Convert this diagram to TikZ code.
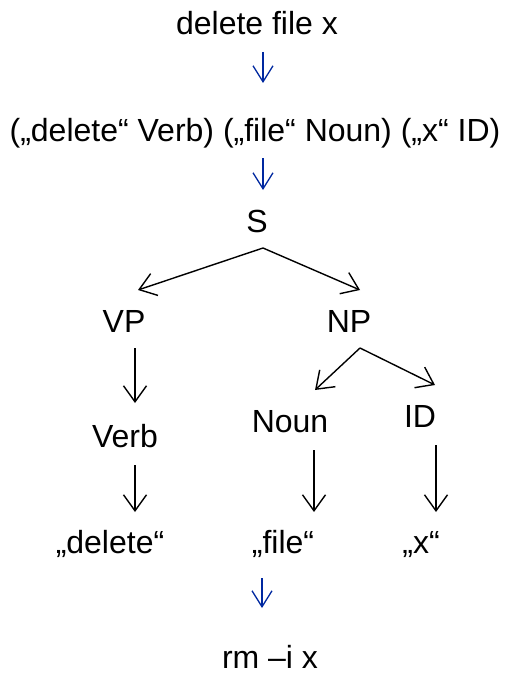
\documentclass[tikz,border=0pt]{standalone}
\usepackage{fontspec}
\setmainfont{Liberation Sans}
\usetikzlibrary{arrows.meta}
\definecolor{arrblue}{RGB}{0,40,160}
\begin{document}
\begin{tikzpicture}[x=1pt,y=-1pt,
  lbl/.style={anchor=base,inner sep=0pt,font=\fontsize{32}{38}\selectfont},
  tree/.style={line width=1.4pt,-{Straight Barb[length=16pt,width=23pt,line width=1.4pt]}},
  trans/.style={arrblue,line width=1.3pt,-{Straight Barb[length=16pt,width=20pt,line width=1.3pt]}}]
\useasboundingbox (0,0) rectangle (505,674);
% texts
\node[lbl] (in) at (257,35) {delete file x};
\node[lbl] (tok) at (255,141) {(„delete“ Verb) („file“ Noun) („x“ ID)};
\node[lbl] (S) at (257,232) {S};
\node[lbl] (VP) at (124,332) {VP};
\node[lbl] (NP) at (349,332) {NP};
\node[lbl] (Verb) at (125,447) {Verb};
\node[lbl] (Noun) at (290,432) {Noun};
\node[lbl] (ID) at (420,427) {ID};
\node[lbl] (wdel) at (110,553) {„delete“};
\node[lbl] (wfile) at (283,553) {„file“};
\node[lbl] (wx) at (421,553) {„x“};
\node[lbl,text depth=0pt] (out) at (270,668) {rm –i x};
% connector end points
\coordinate (a1) at (263,52);  \coordinate (b1) at (263,83);
\coordinate (a2) at (263,158); \coordinate (b2) at (263,190);
\coordinate (a3) at (262,578); \coordinate (b3) at (262,608);
\coordinate (sApex) at (263,248);
\coordinate (vpTop) at (138,290); \coordinate (npTop) at (360,290);
\coordinate (vpBot) at (135,348); \coordinate (verbTop) at (135,403);
\coordinate (npApex) at (360,348);
\coordinate (nounTop) at (315,390); \coordinate (idTop) at (435,385);
\coordinate (verbBot) at (135,465); \coordinate (delTop) at (135,512);
\coordinate (nounBot) at (314,450); \coordinate (fileTop) at (314,512);
\coordinate (idBot) at (436,445); \coordinate (xTop) at (436,512);
% transformation arrows
\draw[trans] (a1) -- (b1);
\draw[trans] (a2) -- (b2);
\draw[trans] (a3) -- (b3);
% tree arrows
\draw[tree] (sApex) -- (vpTop);
\draw[tree] (sApex) -- (npTop);
\draw[tree] (vpBot) -- (verbTop);
\draw[tree] (npApex) -- (nounTop);
\draw[tree] (npApex) -- (idTop);
\draw[tree] (verbBot) -- (delTop);
\draw[tree] (nounBot) -- (fileTop);
\draw[tree] (idBot) -- (xTop);
\end{tikzpicture}
\end{document}
